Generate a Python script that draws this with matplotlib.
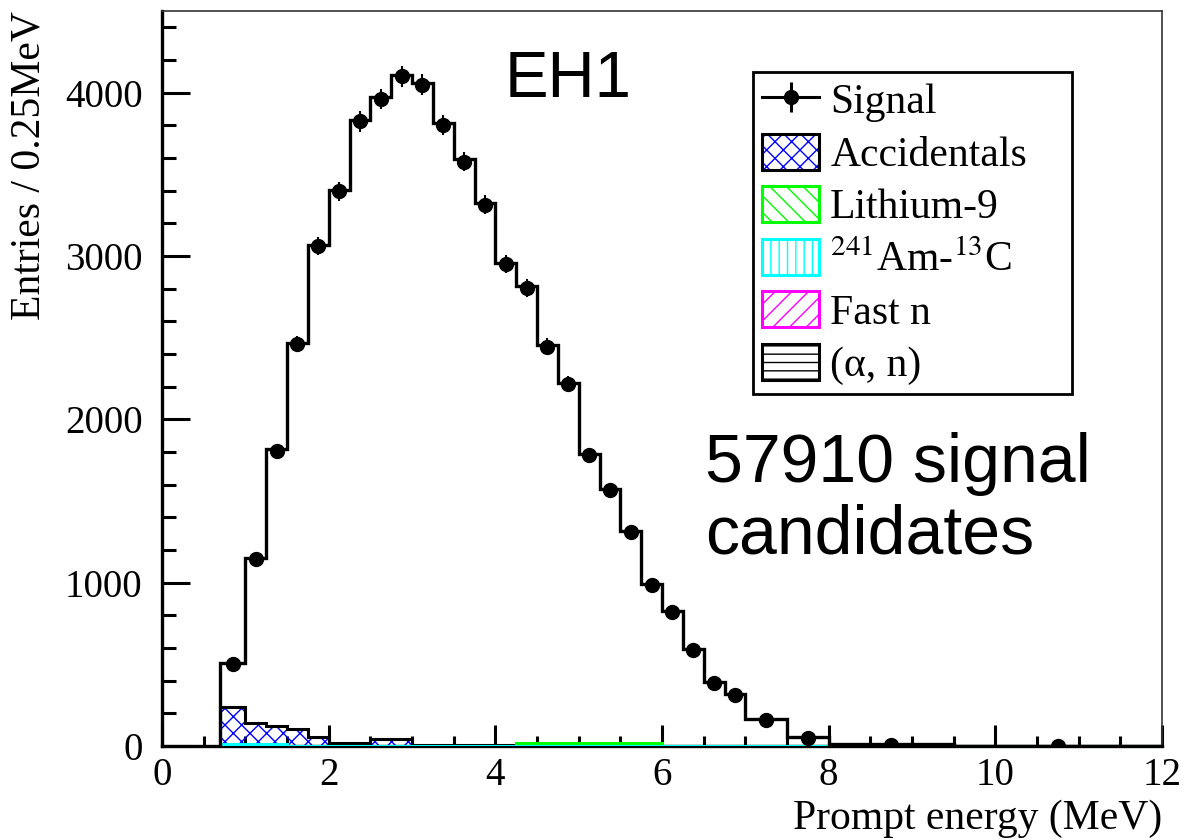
import numpy as np
import matplotlib.pyplot as plt
from matplotlib.lines import Line2D
from matplotlib.patches import Patch
from matplotlib.legend_handler import HandlerTuple

plt.rcParams['font.family'] = ['Liberation Serif', 'DejaVu Serif']
plt.rcParams['mathtext.fontset'] = 'stix'
plt.rcParams['hatch.linewidth'] = 1.0

# --- data (entries / 0.25 MeV) ---
bin_edges = [0.7, 1.0, 1.25, 1.5, 1.75, 2.0, 2.25, 2.5, 2.75, 3.0, 3.25, 3.5,
             3.75, 4.0, 4.25, 4.5, 4.75, 5.0, 5.25, 5.5, 5.75, 6.0, 6.25, 6.5,
             6.75, 7.0, 7.5, 8.0, 9.5, 12.0]

# expected spectrum (histogram line)
signal_hist = [510, 1150, 1815, 2468, 3068, 3405, 3833, 3972, 4109, 4058, 3813, 3592,
               3322, 2956, 2813, 2456, 2225, 1790, 1575, 1318, 992, 825, 594, 392,
               318, 162, 52, 10, 2]
# observed candidates (points)
signal_data = [502, 1145, 1806, 2460, 3060, 3395, 3823, 3960, 4099, 4048, 3803, 3578,
               3313, 2952, 2803, 2445, 2217, 1782, 1568, 1310, 986, 820, 588, 386,
               312, 159, 50, 8, 1]

accidentals = [240, 139, 122, 102, 57, 20, 18, 45, 45, 6, 5, 4,
               3, 3, 2, 2, 2, 1, 1, 1, 1, 1, 0, 0,
               0, 0, 0, 0, 0]
lithium9 = [0, 0, 0, 0, 0, 0, 0, 0, 0, 0, 0, 0,
            0, 0, 15, 15, 15, 15, 15, 15, 15, 0, 0, 0,
            0, 0, 0, 0, 0]
amc = [12, 12, 12, 0, 0, 0, 0, 0, 0, 0, 0, 0,
       0, 0, 0, 0, 0, 0, 0, 0, 0, 0, 0, 0,
       0, 0, 0, 0, 0]
fast_n = [0] * 29
alpha_n = [0] * 29

edges = np.array(bin_edges)
centers = 0.5 * (edges[:-1] + edges[1:])

fig = plt.figure(figsize=(11.87, 8.4), dpi=100)
ax = fig.add_axes([0.1365, 0.112, 0.8425, 0.875])

# backgrounds: hatch fill, then outline
bkgs = [
    (accidentals, 'blue', 'xx', 'black'),
    (lithium9, '#00ff00', '\\\\', '#00ff00'),
    (amc, 'cyan', '||', 'cyan'),
    (fast_n, 'magenta', '//', 'magenta'),
    (alpha_n, 'black', '--', 'black'),
]
for vals, hcol, hatch, lcol in bkgs:
    ax.stairs(vals, edges, fill=True, hatch=hatch, facecolor='none',
              edgecolor=hcol, linewidth=0, zorder=2)
for vals, hcol, hatch, lcol in bkgs:
    if max(vals) > 0:
        ax.stairs(vals, edges, color=lcol, lw=2.2, zorder=3)

# signal prediction + data
ax.stairs(signal_hist, edges, color='black', lw=2.4, zorder=4)
ax.errorbar(centers, signal_data, yerr=np.sqrt(signal_data), fmt='o', color='black',
            ms=10, elinewidth=1.5, capsize=0, zorder=5)

ax.set_xlim(0, 12)
ax.set_ylim(0, 4500)
ax.set_xticks(np.arange(0, 13, 2))
ax.set_xticks(np.arange(0, 12.01, 0.5), minor=True)
ax.set_yticks(np.arange(0, 4001, 1000))
ax.set_yticks(np.arange(0, 4500, 200), minor=True)

ax.tick_params(axis='both', which='both', direction='in', top=False, right=False,
               width=2.2, labelsize=28)
ax.tick_params(axis='x', which='major', length=15, pad=8)
ax.tick_params(axis='x', which='minor', length=7.5)
ax.tick_params(axis='y', which='major', length=20, pad=14)
ax.tick_params(axis='y', which='minor', length=10)

for side in ['left', 'bottom']:
    ax.spines[side].set_linewidth(2.4)
for side in ['top', 'right']:
    ax.spines[side].set_linewidth(1.2)
    ax.spines[side].set_color('#333333')

ax.set_xlabel('Prompt energy (MeV)', fontsize=30, loc='right', labelpad=4)
ax.set_ylabel('Entries / 0.25MeV', fontsize=30, loc='top', labelpad=12)

# legend
sig_handle = (Line2D([], [], color='black', lw=2.2),
              Line2D([], [], color='black', lw=0, marker='|', ms=22, mew=2.2),
              Line2D([], [], color='black', lw=0, marker='o', ms=10))
acc_handle = (Patch(facecolor='white', edgecolor='blue', hatch='xx', lw=0),
              Patch(facecolor='none', edgecolor='black', lw=2.2))
li_handle = Patch(facecolor='white', edgecolor='#00ff00', hatch='\\\\', lw=2.2)
am_handle = Patch(facecolor='white', edgecolor='cyan', hatch='||', lw=2.2)
fn_handle = Patch(facecolor='white', edgecolor='magenta', hatch='//', lw=2.2)
an_handle = Patch(facecolor='white', edgecolor='black', hatch='--', lw=2.2)

leg = ax.legend([sig_handle, acc_handle, li_handle, am_handle, fn_handle, an_handle],
                ['Signal', 'Accidentals', 'Lithium-9', r'$^{241}$Am-$^{13}$C',
                 'Fast n', '(α, n)'],
                handler_map={tuple: HandlerTuple(ndivide=1, pad=0)},
                loc='upper left', bbox_to_anchor=(0.591, 0.5, 0.319, 0.417),
                mode='expand', borderaxespad=0,
                fontsize=30, frameon=True, fancybox=False, framealpha=1,
                edgecolor='black', handlelength=1.37, handleheight=0.95,
                handletextpad=0.26, labelspacing=0.27, borderpad=0.22)
leg.get_frame().set_linewidth(2.0)

# annotations
ax.text(0.343, 0.883, 'EH1', transform=ax.transAxes, fontsize=47,
        family='Liberation Sans', va='baseline', ha='left')
ax.text(0.543, 0.359, '57910 signal', transform=ax.transAxes, fontsize=49,
        family='Liberation Sans', va='baseline', ha='left')
ax.text(0.543, 0.262, 'candidates', transform=ax.transAxes, fontsize=49,
        family='Liberation Sans', va='baseline', ha='left')

fig.savefig('out.png', dpi=100)
